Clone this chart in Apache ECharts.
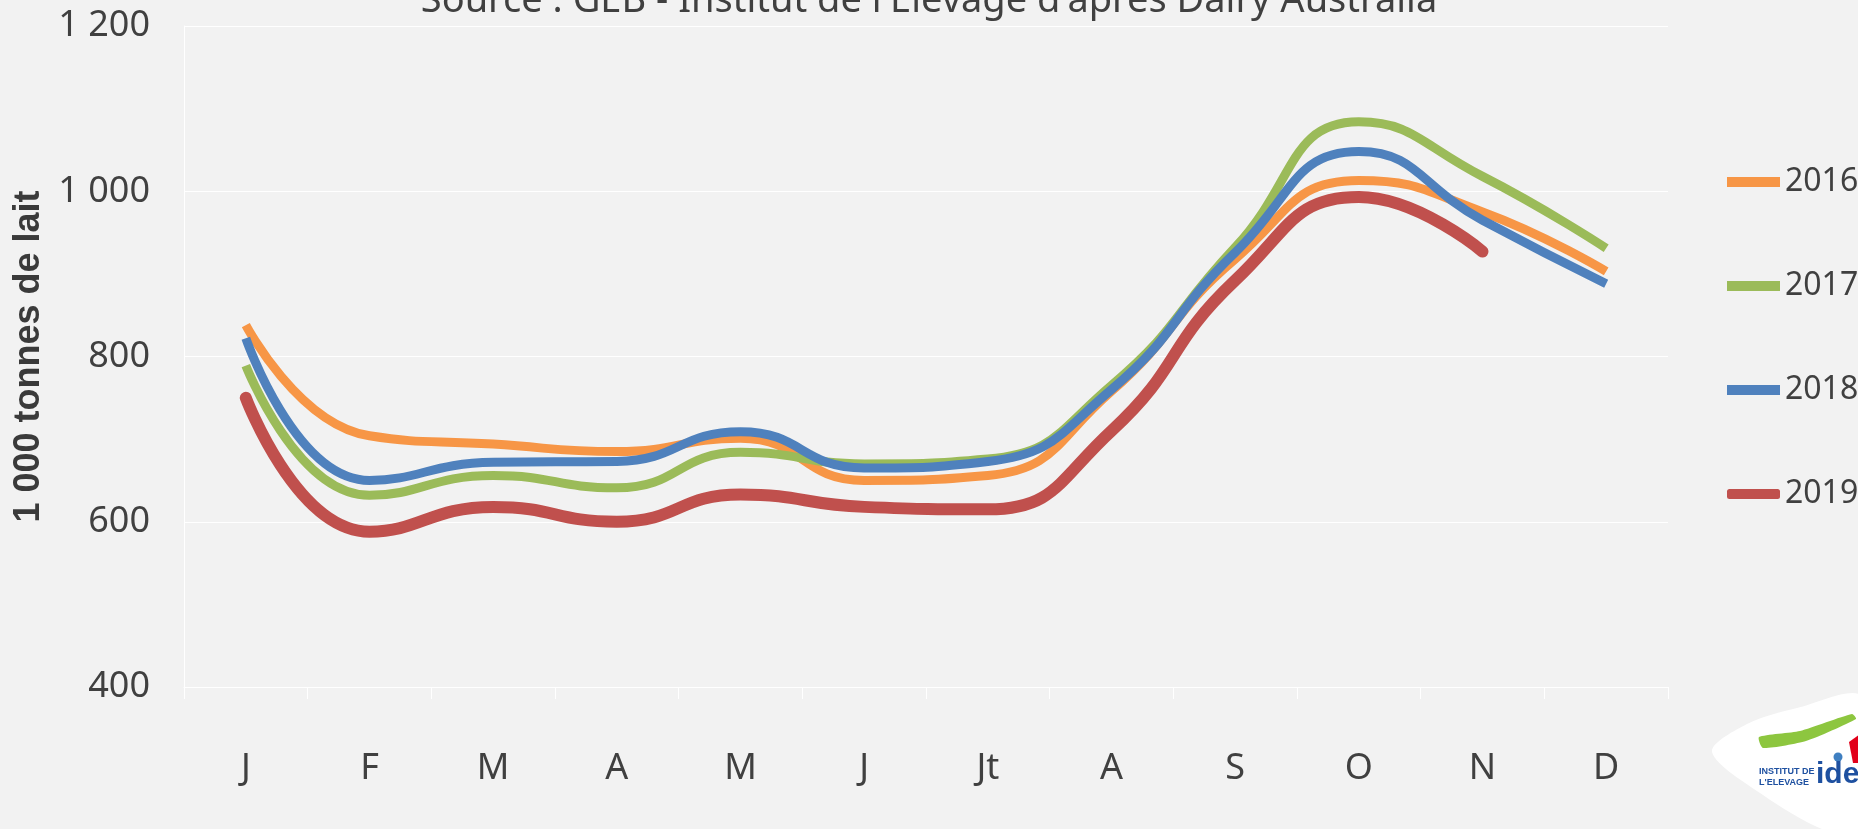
<!DOCTYPE html>
<html>
<head>
<meta charset="utf-8">
<title>Collecte laitière Australie</title>
<script src="https://cdn.jsdelivr.net/npm/echarts@6/dist/echarts.min.js"></script>
<style>
	html, body { margin: 0; padding: 0; background: #f2f2f2; }
	#chart { width: 1858px; height: 829px; }
</style>
</head>
<body>
<div id="chart"></div>
<script>
// données (1 000 tonnes de lait)
var months = ['J', 'F', 'M', 'A', 'M', 'J', 'Jt', 'A', 'S', 'O', 'N', 'D'];
var years = ['2016', '2017', '2018', '2019'];
var y2016 = [838, 704, 694, 685, 701, 650, 656, 758, 918, 1013, 975, 903];
var y2017 = [789, 632, 656, 641, 684, 670, 676, 765, 932, 1084, 1018, 931];
var y2018 = [822, 650, 672, 673, 709, 665, 673, 760, 926, 1048, 965, 888];
var y2019 = [750, 588, 618, 600, 633, 618, 615, 710, 892, 993, 927];
var colors = ['#f79646', '#9bbb59', '#4f81bd', '#c0504d'];

var txt = '#404040';
var font = 'Noto Sans';

var chart = echarts.init(document.getElementById('chart'));

function serie(name, data, color, width, cap) {
	return {
		name: name,
		type: 'line',
		data: data,
		smooth: 0.5,
		showSymbol: false,
		symbol: 'none',
		color: color,
		lineStyle: { color: color, width: width, cap: cap }
	};
}

var option = {
	backgroundColor: '#f2f2f2',
	animation: false,
	title: {
		text: "Source : GEB - Institut de l'Elevage d'après Dairy Australia",
		left: 'center',
		top: -23,
		textStyle: { fontFamily: font, fontSize: 38, fontWeight: 'normal', color: txt }
	},
	grid: { left: 184, right: 190, top: 26, bottom: 142, containLabel: false, outerBoundsMode: 'none' },
	legend: {
		orient: 'vertical',
		left: 1727,
		top: 165,
		padding: 0,
		itemWidth: 53,
		itemHeight: 10,
		itemGap: 70,
		icon: 'rect',
		textStyle: { fontFamily: font, fontSize: 32, color: txt, lineHeight: 34 },
		data: [
			{ name: '2016' },
			{ name: '2017' },
			{ name: '2018' },
			{ name: '2019', icon: 'roundRect' }
		]
	},
	xAxis: {
		type: 'category',
		data: months,
		boundaryGap: true,
		axisLine: { lineStyle: { color: '#ffffff', width: 1 } },
		axisTick: { show: true, length: 12, lineStyle: { color: '#ffffff' } },
		axisLabel: { fontFamily: font, fontSize: 36, color: txt, margin: 64 }
	},
	yAxis: {
		type: 'value',
		min: 400,
		max: 1200,
		interval: 200,
		name: '1 000 tonnes de lait',
		nameLocation: 'middle',
		nameGap: 132,
		nameTextStyle: { fontFamily: 'Liberation Sans', fontWeight: 'bold', fontSize: 36, color: '#3a3a3a' },
		axisLine: { show: true, lineStyle: { color: '#ffffff' } },
		axisTick: { show: false },
		splitLine: { lineStyle: { color: '#ffffff', width: 1 } },
		axisLabel: {
			fontFamily: font, fontSize: 36, color: txt, margin: 34,
			formatter: function (v) {
				return v >= 1000 ? Math.floor(v / 1000) + ' ' + String(v % 1000).padStart(3, '0') : String(v);
			}
		}
	},
	series: [
		serie('2016', y2016, colors[0], 9, 'butt'),
		serie('2017', y2017, colors[1], 9, 'butt'),
		serie('2018', y2018, colors[2], 9, 'butt'),
		serie('2019', y2019, colors[3], 12, 'round')
	],
	graphic: [
		{
			type: 'polygon',
			shape: { points: [[1712, 752], [1747, 724], [1797, 708], [1862, 697], [1862, 831], [1827, 831], [1763, 795]], smooth: 0.3 },
			style: { fill: '#ffffff' }
		},
		{
			type: 'polygon',
			shape: { points: [[1759, 737], [1800, 731], [1852, 714], [1856, 719], [1806, 741], [1763, 748]], smooth: 0.2 },
			style: { fill: '#8dc63f' }
		},
		{
			type: 'polygon',
			shape: { points: [[1849, 742], [1860, 734], [1860, 763], [1853, 763]] },
			style: { fill: '#e2001a' }
		},
		{ type: 'circle', shape: { cx: 1838, cy: 757, r: 4.5 }, style: { fill: '#3f7fc1' } },
		{
			type: 'text', x: 1759, y: 767,
			style: { text: 'INSTITUT DE', fill: '#1e50a0', font: 'bold 9px "Liberation Sans"' }
		},
		{
			type: 'text', x: 1759, y: 778,
			style: { text: "L'ELEVAGE", fill: '#1e50a0', font: 'bold 9px "Liberation Sans"' }
		},
		{
			type: 'text', x: 1816, y: 760,
			style: { text: 'idele', fill: '#1e50a0', font: 'bold 30px "Liberation Sans"' }
		}
	]
};

chart.setOption(option);
</script>
</body>
</html>
